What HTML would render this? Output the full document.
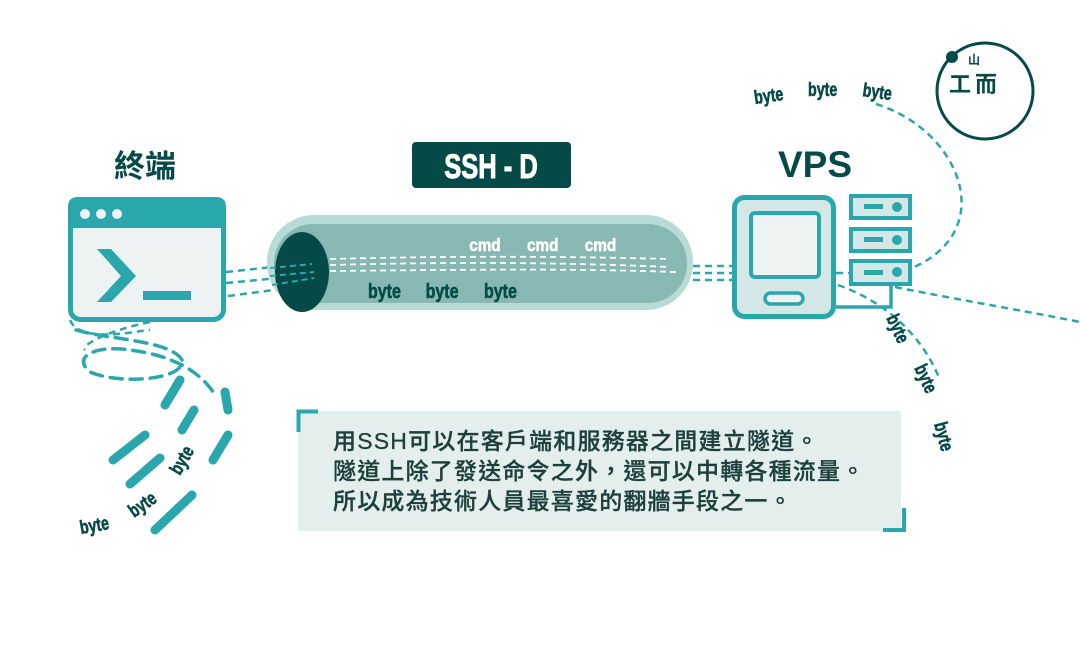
<!DOCTYPE html>
<html><head><meta charset="utf-8"><style>
body{margin:0;width:1080px;height:657px;background:#fff;overflow:hidden;position:relative;font-family:"Liberation Sans","Noto Sans CJK TC",sans-serif}
.abs{position:absolute}
.txt{position:absolute;left:333px;top:426px;font-size:23px;line-height:30px;color:#1d3f3e;letter-spacing:1.2px;white-space:nowrap;font-weight:500;-webkit-text-stroke:0.3px #1d3f3e}
</style></head><body>
<svg class="abs" style="left:0;top:0" width="1080" height="657" viewBox="0 0 1080 657">
<g fill="none" stroke="#2aa7ad" stroke-width="2.5" stroke-dasharray="7 5">
 <path d="M226 272 L310 263"/><path d="M226 283 L310 275"/><path d="M228 296 L312 285"/>
 <path d="M693 266 L735 266"/><path d="M693 273 L735 273"/><path d="M693 280 L735 280"/>
 <path d="M836 273 L850 273"/>
 <path d="M876 104 C960 130 1000 230 912 268"/>
 <path d="M895 287 C960 300 1020 310 1080 322"/>
 <path d="M838 285 C880 300 920 330 940 380"/>
 <path d="M70 320 C80 345 140 330 150 330"/>
 <path d="M150 322 C110 330 80 345 85 350"/>
</g>
<g fill="none" stroke="#2aa7ad" stroke-width="3.5" stroke-dasharray="12 8" stroke-linecap="round">
 <path d="M76 330 C110 340 170 340 182 360 C185 380 120 385 90 372 C70 355 100 345 130 350 C170 355 200 370 215 395"/>
</g>
<g fill="none" stroke="#2aa7ad" stroke-width="9" stroke-linecap="round">
 <path d="M180 380 L165 405"/><path d="M194 410 L182 430"/>
 <path d="M225 392 L228 410"/><path d="M228 435 L213 460"/>
 <path d="M145 435 L113 460"/><path d="M160 458 L130 484"/><path d="M192 495 L155 530"/>
</g>
<rect x="70.5" y="199.5" width="153" height="120" rx="10" fill="#ecf3f2" stroke="#2aa7ad" stroke-width="5"/>
<path d="M68 228 V207 Q68 197 78 197 H216 Q226 197 226 207 V228 Z" fill="#2aa7ad"/>
<circle cx="85" cy="214" r="5" fill="#ecf3f2"/><circle cx="101" cy="214" r="5" fill="#ecf3f2"/><circle cx="117" cy="214" r="5" fill="#ecf3f2"/>
<path d="M97 249 H111 L136 276 L111 302 H97 L121 276 Z" fill="#2aa7ad"/>
<rect x="143" y="291" width="48" height="9" fill="#2aa7ad"/>
<rect x="267" y="215" width="426" height="95" rx="47" fill="#b8dbd7"/>
<rect x="274" y="224" width="413" height="79" rx="39" fill="#88b8b3"/>
<ellipse cx="302" cy="272" rx="27" ry="40" fill="#064a47"/>
<g fill="none" stroke="#2aa7ad" stroke-width="2" stroke-dasharray="6 4"><path d="M270 268 L312 264"/><path d="M270 276 L314 272"/><path d="M272 285 L314 278"/></g>
<g fill="none" stroke="#fff" stroke-width="1.8" stroke-dasharray="6 4">
 <path d="M330 259 C450 256 550 256 670 259"/><path d="M330 265 C450 262 550 262 670 267"/><path d="M330 271 C450 270 560 268 676 272"/>
</g>
<g font-family="Liberation Sans,sans-serif" font-weight="bold" font-size="18" fill="#fff" stroke="#fff" stroke-width="0.6" transform="scale(0.85 1)">
 <text x="552" y="251">cmd</text><text x="620" y="251">cmd</text><text x="688" y="251">cmd</text>
</g>
<g font-family="Liberation Sans,sans-serif" font-weight="bold" font-size="20" fill="#064a47" stroke="#064a47" stroke-width="0.6" transform="scale(0.8 1)">
 <text x="460" y="298">byte</text><text x="532" y="298">byte</text><text x="605" y="298">byte</text>
</g>
<rect x="412" y="142" width="159" height="46" rx="4" fill="#064a47"/>
<text transform="translate(491 178) scale(0.75 1)" text-anchor="middle" font-family="Liberation Sans,sans-serif" font-weight="bold" font-size="34" fill="#fff" stroke="#fff" stroke-width="1">SSH  - D</text>
<text x="815" y="177" text-anchor="middle" font-family="Liberation Sans,sans-serif" font-weight="bold" font-size="37" fill="#064a47">VPS</text>
<rect x="734.5" y="197.5" width="99" height="119" rx="10" fill="#d3e8e6" stroke="#2aa7ad" stroke-width="5"/>
<rect x="751" y="213" width="68" height="64" rx="4" fill="#ecf3f2" stroke="#2aa7ad" stroke-width="4"/>
<rect x="765" y="293" width="38" height="11" rx="5.5" fill="#ecf3f2" stroke="#2aa7ad" stroke-width="3.5"/>
<g stroke="#2aa7ad" stroke-width="4" fill="#d3e8e6">
 <rect x="851" y="196" width="59" height="22"/><rect x="851" y="229" width="59" height="22"/><rect x="851" y="261" width="59" height="23"/>
</g>
<g fill="#2aa7ad">
 <rect x="864" y="204" width="19" height="5"/><circle cx="897" cy="207" r="5"/>
 <rect x="864" y="237" width="19" height="5"/><circle cx="897" cy="240" r="5"/>
 <rect x="864" y="270" width="19" height="5"/><circle cx="897" cy="272" r="5"/>
</g>
<path d="M891 285 V307 H836" fill="none" stroke="#2aa7ad" stroke-width="3.5"/>
<circle cx="985" cy="91" r="48" fill="none" stroke="#064a47" stroke-width="3"/>
<circle cx="952" cy="57" r="6" fill="#064a47"/>
<text x="960" y="92" font-family="Noto Sans CJK TC,sans-serif" font-weight="bold" font-size="22" fill="#064a47" text-anchor="middle">工</text>
<text x="975" y="92" font-family="Noto Sans CJK TC,sans-serif" font-weight="bold" font-size="22" fill="#064a47" text-anchor="start">而</text>
<text x="968" y="64" font-family="Noto Sans CJK TC,sans-serif" font-weight="bold" font-size="12" fill="#064a47">山</text>
<g font-family="Liberation Sans,sans-serif" font-weight="bold" font-size="19" fill="#064a47" stroke="#064a47" stroke-width="0.6">
 <text transform="translate(755 104) rotate(-8) scale(0.75 1)">byte</text>
 <text transform="translate(808 96) scale(0.75 1)">byte</text>
 <text transform="translate(862 96) rotate(8) scale(0.75 1)">byte</text>
 <text transform="translate(886 318) rotate(65) scale(0.75 1)">byte</text>
 <text transform="translate(914 368) rotate(65) scale(0.75 1)">byte</text>
 <text transform="translate(934 424) rotate(75) scale(0.75 1)">byte</text>
 <text transform="translate(81 534) rotate(-10) scale(0.75 1)">byte</text>
 <text transform="translate(134 518) rotate(-35) scale(0.75 1)">byte</text>
 <text transform="translate(180 476) rotate(-60) scale(0.75 1)">byte</text>
</g>
<rect x="298" y="411" width="603" height="120" fill="#e4efed"/>
<path d="M298.5 432 V411.5 H318" fill="none" stroke="#2aa7ad" stroke-width="4"/>
<path d="M883 530 H904 V508" fill="none" stroke="#2aa7ad" stroke-width="4"/>
<text x="145" y="177" text-anchor="middle" font-family="Noto Sans CJK TC,sans-serif" font-weight="bold" font-size="31" fill="#064a47">終端</text>
</svg>
<div class="txt">用SSH可以在客戶端和服務器之間建立隧道。<br>隧道上除了發送命令之外，還可以中轉各種流量。<br>所以成為技術人員最喜愛的翻牆手段之一。</div>
</body></html>
